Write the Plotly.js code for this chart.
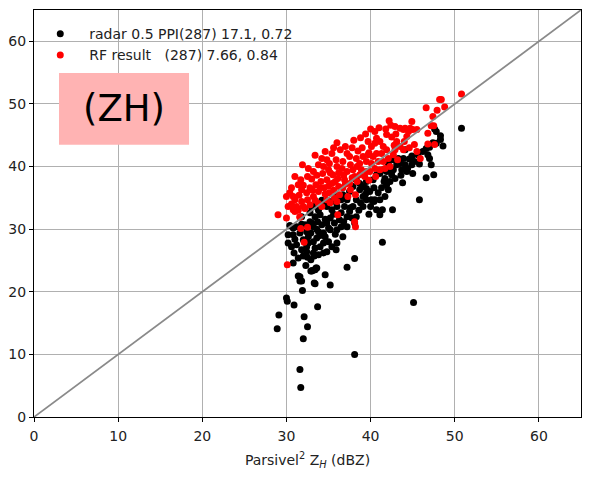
<!DOCTYPE html>
<html>
<head>
<meta charset="utf-8">
<script src="https://cdn.plot.ly/plotly-3.0.1.min.js"></script>
<style>html,body{margin:0;padding:0;background:#fff;}#chart{width:589px;height:477px;}</style>
</head>
<body>
<div id="chart"></div>
<script>
// Radar 0.5 PPI (black) points: Parsivel ZH (x) vs radar ZH (y)
const radarX = [30.1,30.9,33.7,45.1,29.1,32.1,28.9,32.5,32.0,38.1,31.6,31.7,30.0,31.9,
  30.9,31.4,32.4,32.5,33.8,34.4,34.8,35.9,32.3,33.0,33.4,33.6,31.4,31.6,33.4,34.6,35.2,
  41.4,38.1,37.2,
  50.8,47.6,47.8,48.3,48.3,47.8,47.4,48.6,46.6,47.0,44.1,44.9,45.6,45.2,44.9,44.4,45.0,46.8,47.0,47.2,47.5,46.6,
  45.8,43.9,44.1,43.7,44.3,43.1,42.7,42.5,42.9,42.3,41.9,42.1,41.7,42.6,41.4,41.1,40.7,40.5,40.1,39.9,39.5,39.1,38.7,38.3,
  38.3,37.9,37.5,36.9,36.5,36.3,35.7,35.4,36.5,
  36.7,36.0,35.4,35.0,34.6,35.2,
  32.8,33.4,34.0,33.7,34.2,33.2,33.8,34.4,32.9,33.6,32.6,32.0,31.6,30.8,30.2,30.6,31.2,31.8,32.4,33.2,34.0,32.9,33.3,32.0,30.8,31.6,31.8,33.3,32.9,33.1,33.5,
  34.8,35.4,36.0,36.7,37.5,37.9,38.7,39.5,40.3,40.7,41.1,41.5,41.7,42.1,42.7,43.3,43.5,41.9,37.2,39.1,39.5,40.9,41.1,41.3,39.1,40.0,37.2,37.8,38.3,36.0,36.5,37.2,38.1,34.8,35.2,32.8,32.2,31.8,31.2,30.2,30.8,
  33.5,34.2,33.0,40.4,
  33.0,33.6,34.6,34.0,33.2,32.4,31.8,33.8,35.6,36.0,34.4,35.0,35.8,32.6,31.0,30.4,33.4,34.4,36.8,37.6,38.6,39.4,40.4,41.6,42.6,43.6,44.6,45.8,46.2,43.8,39.8,38.8];
const radarY = [18.5,17.9,17.6,18.3,16.3,16.0,14.1,14.4,12.5,10.0,7.6,4.7,19.0,20.2,
  26.2,25.4,26.4,25.5,25.9,26.2,26.4,26.7,24.2,23.3,23.5,23.8,22.5,21.7,21.3,22.7,21.1,
  27.9,25.3,23.9,
  46.1,46.0,45.6,44.9,44.3,43.7,43.8,43.3,42.9,43.1,42.7,41.7,41.9,40.8,40.3,39.7,38.9,41.9,41.3,40.3,38.7,38.2,
  34.7,41.3,40.3,39.5,39.2,40.3,39.5,38.7,38.1,37.6,37.1,36.3,35.2,33.1,33.1,32.3,33.1,34.7,34.7,36.0,36.5,36.8,37.3,37.9,
  34.7,33.6,32.8,33.6,32.6,31.5,31.0,33.1,34.7,
  28.8,27.8,27.2,28.0,28.8,29.9,
  32.6,32.0,32.3,31.2,30.7,30.4,29.6,29.4,29.4,28.6,28.8,28.3,29.4,29.1,27.8,27.2,27.5,26.7,27.2,26.2,27.2,25.1,25.7,25.7,24.6,22.4,21.7,21.4,23.3,23.4,23.8,
  33.6,34.4,35.2,35.5,36.0,36.8,36.3,37.6,37.9,38.7,38.9,39.5,38.1,40.5,41.1,41.3,40.5,39.2,34.7,35.2,34.7,35.8,34.7,36.6,33.6,33.6,32.0,31.8,32.0,29.9,30.4,30.4,31.0,31.0,31.8,31.2,30.7,32.0,30.4,29.1,30.2,
  33.8,34.6,33.5,34.4,
  31.0,30.0,31.6,29.0,28.0,29.6,30.8,33.0,32.4,33.6,33.8,30.2,29.2,27.8,28.4,30.6,27.0,27.8,31.2,33.4,33.0,35.6,36.6,37.6,39.6,38.6,41.2,40.4,42.4,37.4,32.4,34.2];

// RF result (red) points
const rfX = [50.8,48.2,48.4,48.8,47.9,46.6,47.4,44.9,44.7,45.0,45.5,44.1,47.2,47.5,46.8,44.3,45.2,46.8,47.6,45.5,45.9,
  42.2,42.4,42.9,43.5,43.9,44.5,41.9,42.5,43.1,43.5,43.9,42.9,42.7,43.2,
  40.7,41.1,40.5,39.7,40.1,41.5,41.9,41.3,40.7,40.3,39.7,39.1,39.5,40.1,40.9,41.5,42.1,42.3,41.7,41.1,40.5,39.9,38.9,38.7,38.3,37.5,37.2,36.4,36.0,35.4,35.9,36.7,37.6,37.9,37.2,36.6,36.0,35.1,34.8,34.2,33.8,34.4,35.0,35.5,36.1,36.9,37.5,38.1,38.7,39.3,39.5,
  31.9,32.6,33.2,32.5,31.7,31.0,31.4,30.6,30.0,30.8,31.8,32.8,33.5,34.1,34.8,35.4,34.5,33.8,33.2,32.5,31.8,31.2,32.0,32.8,33.8,34.8,35.7,36.3,35.1,36.7,37.3,29.0,30.0,30.8,31.6,32.2,31.0,37.6,38.2,38.1,38.2,36.1,32.1,31.7,32.5,31.0,31.6,30.1,30.4,
  40.5,39.0,38.5,37.8,
  33.0,33.6,34.3,35.2,36.2,36.8,37.8,38.4,35.8,35.0,34.0,33.1,32.4,31.5,32.0,34.6,35.6,36.2,37.0,33.4,34.2,35.2,36.0,30.6,31.4,30.2,33.4,34.6,35.6,37.0,38.0,38.8,39.4,40.0,41.0,41.8,43.0,44.0,39.8,38.4,39.8,40.6,42.8,44.6];
const rfY = [51.6,50.7,50.7,49.5,49.0,49.4,48.0,47.2,46.1,45.9,45.9,46.1,46.5,46.5,45.3,44.8,43.5,43.6,43.5,42.4,41.3,
  47.3,46.6,46.4,46.1,45.9,45.6,45.1,44.7,44.0,43.2,42.7,42.7,41.9,41.1,
  44.5,44.0,43.7,44.0,43.2,43.2,42.7,42.1,42.1,41.6,41.9,41.6,40.8,40.5,40.8,40.8,41.3,40.0,39.7,39.5,39.7,39.2,39.5,40.5,41.3,41.6,42.1,42.7,43.8,42.1,41.1,40.8,40.3,39.5,39.2,39.7,40.0,40.5,41.1,41.3,40.3,40.0,39.5,38.7,38.1,37.9,37.3,38.4,38.7,38.4,39.2,
  40.3,39.7,39.2,38.4,37.9,38.4,37.1,36.6,35.2,35.2,36.3,36.6,37.1,37.6,37.9,37.3,36.6,36.0,35.2,34.7,34.4,33.6,33.6,33.9,34.1,34.7,35.0,35.5,35.8,36.6,35.2,32.3,31.8,33.1,32.0,33.3,34.7,36.3,35.5,31.2,30.4,32.3,27.9,30.1,30.3,32.8,31.9,24.3,35.8,
  45.6,43.0,42.5,43.0,
  38.0,38.6,38.9,39.0,39.0,38.6,38.2,37.6,37.6,36.9,36.6,36.2,35.8,35.4,37.0,35.6,36.2,36.8,37.2,34.6,33.6,34.2,34.4,34.0,33.0,33.6,41.8,42.4,43.0,43.2,44.2,44.6,45.2,46.0,46.2,46.0,45.2,44.0,42.2,40.0,37.8,38.4,43.4,43.0];

// 1:1 reference line
const oneToOneX = [0, 65];
const oneToOneY = [0, 65];

const legendNames = ['radar 0.5 PPI(287) 17.1, 0.72', 'RF result   (287) 7.66, 0.84'];
const tickVals = [0, 10, 20, 30, 40, 50, 60];
const panelLabel = '(ZH)';
const xTitle = 'Parsivel<sup>2</sup> Z<sub><i>H</i></sub> (dBZ)';

const font = 'DejaVu Sans, sans-serif';

const traces = [
  {x: radarX, y: radarY, type: 'scatter', mode: 'markers', name: legendNames[0],
   marker: {color: '#000000', size: 7}},
  {x: rfX, y: rfY, type: 'scatter', mode: 'markers', name: legendNames[1],
   marker: {color: '#ff0000', size: 7}},
  {x: oneToOneX, y: oneToOneY, type: 'scatter', mode: 'lines', showlegend: false,
   line: {color: '#8a8a8a', width: 1.8}, hoverinfo: 'skip'}
];

const axisCommon = {
  range: [0, 65], tickvals: tickVals, ticks: 'outside', ticklen: 4, tickcolor: '#000',
  showline: true, mirror: true, linecolor: '#000', linewidth: 1,
  showgrid: true, gridcolor: '#b0b0b0', gridwidth: 1, zeroline: false,
  tickfont: {family: font, size: 14, color: '#222'}
};

const layout = {
  width: 589, height: 477,
  margin: {l: 34, r: 8, t: 10, b: 60},
  paper_bgcolor: '#fff', plot_bgcolor: '#fff',
  font: {family: font, color: '#222'},
  xaxis: Object.assign({}, axisCommon, {ticklabelstandoff: 2,
    title: {text: xTitle, font: {family: font, size: 14, color: '#222'}, standoff: 12}}),
  yaxis: Object.assign({}, axisCommon),
  showlegend: true,
  legend: {x: -0.005, y: 0.98, xanchor: 'left', yanchor: 'top', bgcolor: 'rgba(0,0,0,0)',
    font: {family: font, size: 14, color: '#222'}, itemwidth: 48, tracegroupgap: 0},
  shapes: [{type: 'rect', xref: 'paper', yref: 'paper', x0: 0.0457, x1: 0.2834, y0: 0.6687, y1: 0.8454,
    fillcolor: '#ffb3b3', line: {width: 0}, layer: 'above'}],
  annotations: [{xref: 'paper', yref: 'paper', x: 0.1645, y: 0.757, text: panelLabel, showarrow: false,
    font: {family: font, size: 37, color: '#000'}, xanchor: 'center', yanchor: 'middle'}]
};

Plotly.newPlot('chart', traces, layout, {displayModeBar: false, staticPlot: true});
</script>
</body>
</html>
